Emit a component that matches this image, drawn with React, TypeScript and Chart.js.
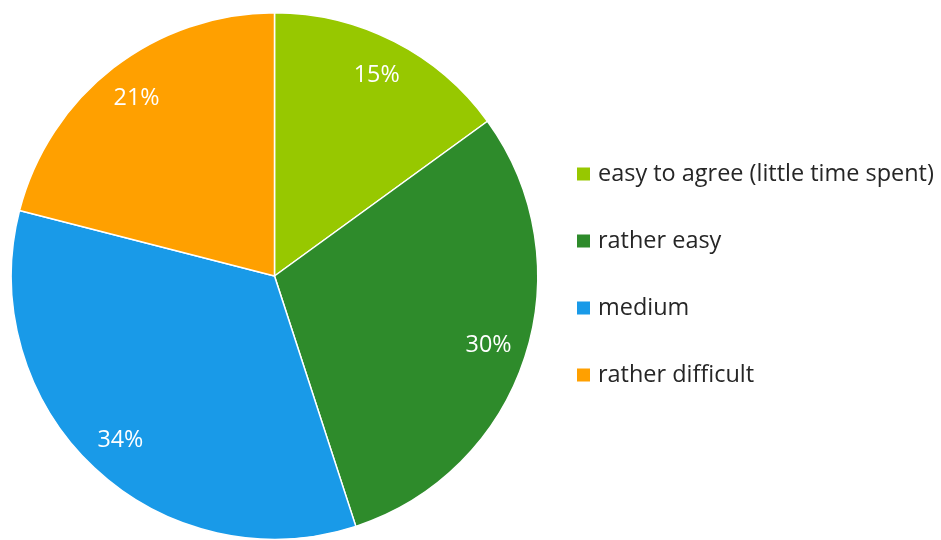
import React, { useEffect, useRef } from "react";
import { Chart, registerables } from "chart.js";

Chart.register(...registerables);

const categories = ["easy to agree (little time spent)", "rather easy", "medium", "rather difficult"];
const values = [15, 30, 34, 21];
const labelsText = ["15%", "30%", "34%", "21%"];
const colors = ["#97C800", "#2E8B2B", "#199AE8", "#FFA000"];

const FONT = "'Open Sans', sans-serif";

function fitSize(ctx: CanvasRenderingContext2D, text: string, target: number, base: number) {
  ctx.font = `${base}px ${FONT}`;
  const w = ctx.measureText(text).width;
  return (base * target) / w;
}

const piePlugin = {
  id: "pieExtras",
  afterDatasetsDraw(chart: any) {
    const ctx = chart.ctx as CanvasRenderingContext2D;
    const meta = chart.getDatasetMeta(0);
    ctx.save();
    const lblSize = Math.min(24, fitSize(ctx, "15%", 46, 20));
    ctx.fillStyle = "#ffffff";
    ctx.font = `${lblSize}px ${FONT}`;
    ctx.textAlign = "center";
    ctx.textBaseline = "middle";
    meta.data.forEach((arc: any, i: number) => {
      const p = arc.getProps(["x", "y", "startAngle", "endAngle", "outerRadius"], true);
      const mid = (p.startAngle + p.endAngle) / 2;
      const r = p.outerRadius * 0.855;
      ctx.fillText(labelsText[i], p.x + Math.cos(mid) * r, p.y + Math.sin(mid) * r);
    });
    // legend
    const x0 = 577;
    const ys = [174, 241, 308, 375];
    const legSize = Math.min(24, fitSize(ctx, categories[0], 336, 20));
    ctx.textAlign = "left";
    ctx.font = `${legSize}px ${FONT}`;
    categories.forEach((c, i) => {
      ctx.fillStyle = colors[i];
      ctx.fillRect(x0, ys[i] - 6.5, 13, 13);
      ctx.fillStyle = "#262626";
      ctx.fillText(c, 598, ys[i] + 0.5);
    });
    ctx.restore();
  },
};

export default function App() {
  const ref = useRef<HTMLCanvasElement>(null);
  useEffect(() => {
    document.body.style.margin = "0";
    const chart = new Chart(ref.current!, {
      type: "pie",
      data: {
        labels: categories,
        datasets: [
          {
            data: values,
            backgroundColor: colors,
            borderColor: "#ffffff",
            borderWidth: 1.5,
          },
        ],
      },
      options: {
        responsive: false,
        animation: false,
        layout: { padding: { left: 10, right: 402, top: 12, bottom: 0 } },
        plugins: { legend: { display: false }, tooltip: { enabled: false } },
      },
      plugins: [piePlugin],
    });
    return () => chart.destroy();
  }, []);
  return (
    <div style={{ width: 941, height: 540, background: "#fff" }}>
      <canvas ref={ref} width={941} height={540} style={{ display: "block" }} />
    </div>
  );
}
